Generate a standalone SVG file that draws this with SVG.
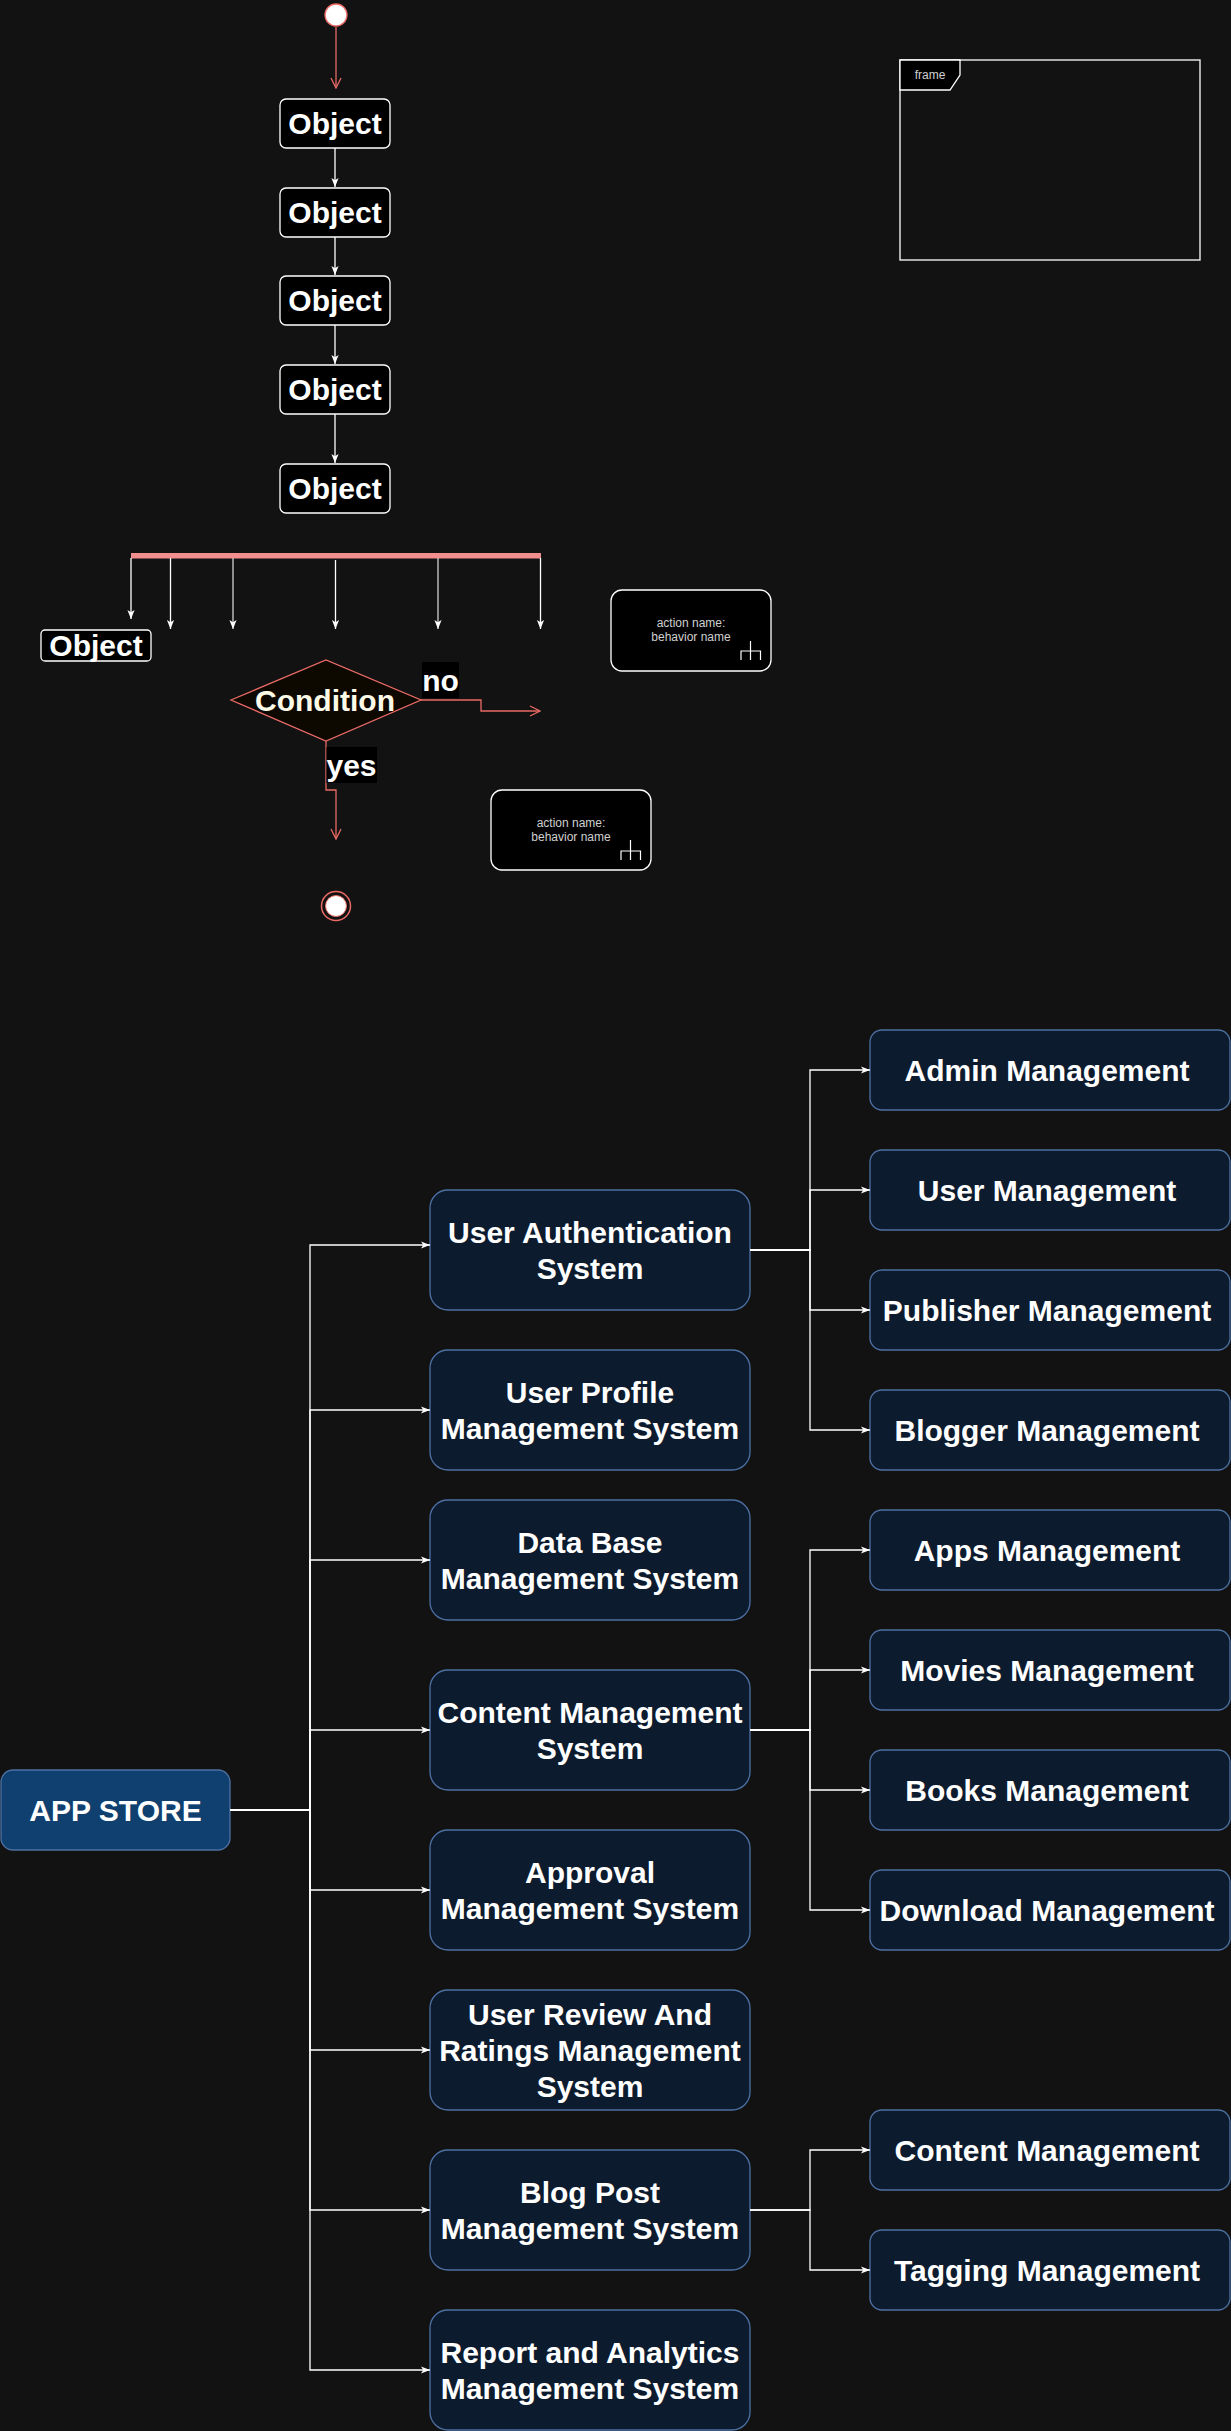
<svg xmlns="http://www.w3.org/2000/svg" width="1231" height="2431" viewBox="0 0 1231 2431">
<style>
.bg{fill:#121212}
.obj{fill:#000;stroke:#fff;stroke-width:1.3}
.t30{font-family:"Liberation Sans",Arial,sans-serif;font-weight:bold;font-size:30px;fill:#fff;text-anchor:middle}
.t12{font-family:"Liberation Sans",Arial,sans-serif;font-size:12px;fill:#d0d0d0;text-anchor:middle}
.mid{fill:#0d1b2e;stroke:#4d70a3;stroke-width:1.3}
.root{fill:#10406f;stroke:#4d70a3;stroke-width:1.3}
.wl{fill:none;stroke:#fff;stroke-width:1.3}
.rl{fill:none;stroke:#ea6b66;stroke-width:1.3}
</style>
<defs>
<marker id="blk" viewBox="0 0 10 10" refX="10" refY="5" markerWidth="9" markerHeight="9" markerUnits="userSpaceOnUse" orient="auto">
<path d="M0,1 L10,5 L0,9 L2.5,5 Z" fill="#fff"/>
</marker>
<marker id="opn" viewBox="0 0 12 12" refX="11" refY="6" markerWidth="12" markerHeight="12" markerUnits="userSpaceOnUse" orient="auto">
<path d="M1,1 L11,6 L1,11" fill="none" stroke="#ea6b66" stroke-width="1.3"/>
</marker>
</defs>
<rect class="bg" x="0" y="0" width="1231" height="2431"/>

<g id="start"><circle cx="336" cy="15" r="11" fill="#fff" stroke="#ea6b66" stroke-width="1.3"/></g>

<g id="obj1"><rect class="obj" x="280" y="99" width="110" height="49" rx="6"/><text class="t30" x="335" y="134">Object</text></g>
<g id="obj2"><rect class="obj" x="280" y="188" width="110" height="49" rx="6"/><text class="t30" x="335" y="223">Object</text></g>
<g id="obj3"><rect class="obj" x="280" y="276" width="110" height="49" rx="6"/><text class="t30" x="335" y="311">Object</text></g>
<g id="obj4"><rect class="obj" x="280" y="365" width="110" height="49" rx="6"/><text class="t30" x="335" y="400">Object</text></g>
<g id="obj5"><rect class="obj" x="280" y="464" width="110" height="49" rx="6"/><text class="t30" x="335" y="499">Object</text></g>

<g id="forkbar"><rect x="131" y="553" width="410" height="5.5" fill="#f28e8e"/></g>

<g id="obj6"><rect class="obj" x="41" y="630" width="110" height="31" rx="4"/><text class="t30" x="96" y="656">Object</text></g>

<g id="condition">
<polygon points="231,700 326,660 421,700 326,741" fill="#0d0800" stroke="#ea6b66" stroke-width="1.3"/>
<text class="t30" x="325" y="710.5" style="fill:#fdfbe8">Condition</text>
</g>

<g id="action1">
<rect x="611" y="590" width="160" height="81" rx="11" fill="#000" stroke="#fff" stroke-width="1.3"/>
<text class="t12" x="691" y="627">action name:</text>
<text class="t12" x="691" y="641">behavior name</text>
<path d="M741,660 V651 H760.5 V660 M750.5,641 V660" fill="none" stroke="#fff" stroke-width="1.2"/>
</g>
<g id="action2">
<rect x="491" y="790" width="160" height="80" rx="11" fill="#000" stroke="#fff" stroke-width="1.3"/>
<text class="t12" x="571" y="827">action name:</text>
<text class="t12" x="571" y="841">behavior name</text>
<path d="M621,860 V851 H640.5 V860 M630.5,840 V860" fill="none" stroke="#fff" stroke-width="1.2"/>
</g>

<g id="end">
<circle cx="336" cy="906" r="14.5" fill="#121212" stroke="#ea6b66" stroke-width="1.5"/>
<circle cx="336" cy="906" r="10.5" fill="#fff" stroke="#ea6b66" stroke-width="1"/>
</g>

<g id="frame">
<rect x="900" y="60" width="300" height="200" fill="none" stroke="#fff" stroke-width="1.3"/>
<path d="M900,60 H960 V75 L950,90 H900 Z" fill="#000" stroke="#fff" stroke-width="1.3"/>
<text class="t12" x="930" y="79">frame</text>
</g>

<g id="app-store"><rect class="root" x="1" y="1770" width="229" height="80" rx="12"/><text class="t30" x="115.5" y="1820.5">APP STORE</text></g>

<g id="user-auth"><rect class="mid" x="430" y="1190" width="320" height="120" rx="18"/><text class="t30" x="590" y="1242.5">User Authentication</text><text class="t30" x="590" y="1278.5">System</text></g>
<g id="user-profile"><rect class="mid" x="430" y="1350" width="320" height="120" rx="18"/><text class="t30" x="590" y="1402.5">User Profile</text><text class="t30" x="590" y="1438.5">Management System</text></g>
<g id="database"><rect class="mid" x="430" y="1500" width="320" height="120" rx="18"/><text class="t30" x="590" y="1552.5">Data Base</text><text class="t30" x="590" y="1588.5">Management System</text></g>
<g id="content-sys"><rect class="mid" x="430" y="1670" width="320" height="120" rx="18"/><text class="t30" x="590" y="1722.5">Content Management</text><text class="t30" x="590" y="1758.5">System</text></g>
<g id="approval"><rect class="mid" x="430" y="1830" width="320" height="120" rx="18"/><text class="t30" x="590" y="1882.5">Approval</text><text class="t30" x="590" y="1918.5">Management System</text></g>
<g id="review"><rect class="mid" x="430" y="1990" width="320" height="120" rx="18"/><text class="t30" x="590" y="2024.5">User Review And</text><text class="t30" x="590" y="2060.5">Ratings Management</text><text class="t30" x="590" y="2096.5">System</text></g>
<g id="blog"><rect class="mid" x="430" y="2150" width="320" height="120" rx="18"/><text class="t30" x="590" y="2202.5">Blog Post</text><text class="t30" x="590" y="2238.5">Management System</text></g>
<g id="report"><rect class="mid" x="430" y="2310" width="320" height="120" rx="18"/><text class="t30" x="590" y="2362.5">Report and Analytics</text><text class="t30" x="590" y="2398.5">Management System</text></g>

<g id="admin"><rect class="mid" x="870" y="1030" width="360" height="80" rx="12"/><text class="t30" x="1047" y="1080.5">Admin Management</text></g>
<g id="user-mgmt"><rect class="mid" x="870" y="1150" width="360" height="80" rx="12"/><text class="t30" x="1047" y="1200.5">User Management</text></g>
<g id="publisher"><rect class="mid" x="870" y="1270" width="360" height="80" rx="12"/><text class="t30" x="1047" y="1320.5">Publisher Management</text></g>
<g id="blogger"><rect class="mid" x="870" y="1390" width="360" height="80" rx="12"/><text class="t30" x="1047" y="1440.5">Blogger Management</text></g>
<g id="apps"><rect class="mid" x="870" y="1510" width="360" height="80" rx="12"/><text class="t30" x="1047" y="1560.5">Apps Management</text></g>
<g id="movies"><rect class="mid" x="870" y="1630" width="360" height="80" rx="12"/><text class="t30" x="1047" y="1680.5">Movies Management</text></g>
<g id="books"><rect class="mid" x="870" y="1750" width="360" height="80" rx="12"/><text class="t30" x="1047" y="1800.5">Books Management</text></g>
<g id="download"><rect class="mid" x="870" y="1870" width="360" height="80" rx="12"/><text class="t30" x="1047" y="1920.5">Download Management</text></g>
<g id="content-mgmt"><rect class="mid" x="870" y="2110" width="360" height="80" rx="12"/><text class="t30" x="1047" y="2160.5">Content Management</text></g>
<g id="tagging"><rect class="mid" x="870" y="2230" width="360" height="80" rx="12"/><text class="t30" x="1047" y="2280.5">Tagging Management</text></g>

<g id="connectors">
<path class="rl" d="M336,27 V88" marker-end="url(#opn)"/>
<path class="wl" d="M335,148 V187" marker-end="url(#blk)"/>
<path class="wl" d="M335,237 V275" marker-end="url(#blk)"/>
<path class="wl" d="M335,325 V364" marker-end="url(#blk)"/>
<path class="wl" d="M335,414 V463" marker-end="url(#blk)"/>
<path class="wl" d="M131,558 V619" marker-end="url(#blk)"/>
<path class="wl" d="M170.5,558 V629" marker-end="url(#blk)"/>
<path class="wl" d="M233,558 V629" style="stroke:#d0d0d0" marker-end="url(#blk)"/>
<path class="wl" d="M335.5,560 V629" marker-end="url(#blk)"/>
<path class="wl" d="M438,558 V629" style="stroke:#d0d0d0" marker-end="url(#blk)"/>
<path class="wl" d="M540.5,558 V629" marker-end="url(#blk)"/>
<path class="rl" d="M421,700 H481 V711 H540" marker-end="url(#opn)"/>
<path class="rl" d="M326,741 V790 H336 V839" marker-end="url(#opn)"/>
<rect x="422" y="662" width="37" height="36" fill="#000"/>
<text class="t30" x="440.5" y="690.5">no</text>
<rect x="326.5" y="747" width="50.5" height="36" fill="#000"/>
<text class="t30" x="351.5" y="775.5">yes</text>

<path class="wl" d="M230,1810 H310 V1245 H430" marker-end="url(#blk)"/>
<path class="wl" d="M230,1810 H310 V1410 H430" marker-end="url(#blk)"/>
<path class="wl" d="M230,1810 H310 V1560 H430" marker-end="url(#blk)"/>
<path class="wl" d="M230,1810 H310 V1730 H430" marker-end="url(#blk)"/>
<path class="wl" d="M230,1810 H310 V1890 H430" marker-end="url(#blk)"/>
<path class="wl" d="M230,1810 H310 V2050 H430" marker-end="url(#blk)"/>
<path class="wl" d="M230,1810 H310 V2210 H430" marker-end="url(#blk)"/>
<path class="wl" d="M230,1810 H310 V2370 H430" marker-end="url(#blk)"/>

<path class="wl" d="M750,1250 H810 V1070 H870" marker-end="url(#blk)"/>
<path class="wl" d="M750,1250 H810 V1190 H870" marker-end="url(#blk)"/>
<path class="wl" d="M750,1250 H810 V1310 H870" marker-end="url(#blk)"/>
<path class="wl" d="M750,1250 H810 V1430 H870" marker-end="url(#blk)"/>

<path class="wl" d="M750,1730 H810 V1550 H870" marker-end="url(#blk)"/>
<path class="wl" d="M750,1730 H810 V1670 H870" marker-end="url(#blk)"/>
<path class="wl" d="M750,1730 H810 V1790 H870" marker-end="url(#blk)"/>
<path class="wl" d="M750,1730 H810 V1910 H870" marker-end="url(#blk)"/>

<path class="wl" d="M750,2210 H810 V2150 H870" marker-end="url(#blk)"/>
<path class="wl" d="M750,2210 H810 V2270 H870" marker-end="url(#blk)"/>
</g>
</svg>
